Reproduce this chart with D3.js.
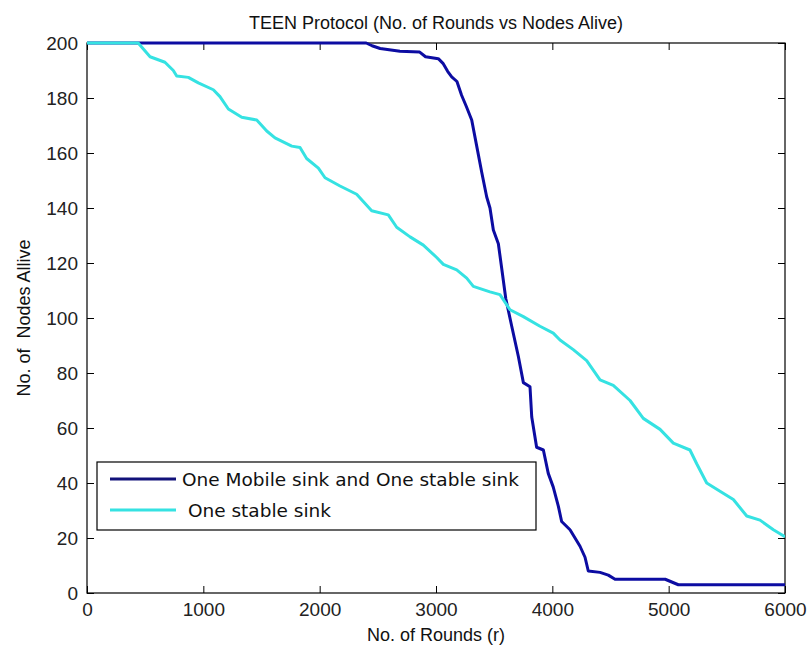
<!DOCTYPE html>
<html>
<head>
<meta charset="utf-8">
<script src="https://cdn.jsdelivr.net/npm/d3@7"></script>
<style>
  body { margin: 0; background: #fff; }
  svg { display: block; }
</style>
</head>
<body>
<div id="chart"></div>
<script>
// rounds -> nodes alive
const mobileRounds = [0, 2400, 2450, 2520, 2690, 2860, 2910, 3020, 3060, 3100, 3135, 3180, 3220, 3260, 3307, 3350, 3393, 3436, 3464, 3493, 3536, 3565, 3600, 3651, 3708, 3751, 3808, 3823, 3865, 3923, 3965, 4008, 4052, 4080, 4152, 4238, 4281, 4309, 4410, 4481, 4539, 4970, 5083, 6000];
const mobileAlive  = [200, 200, 199, 198, 197, 196.7, 195, 194.3, 192.6, 189.7, 187.7, 186, 181, 177, 172, 162.5, 153, 144, 140, 132, 127, 118, 107, 97, 86, 76.5, 75, 64, 53, 52, 43.5, 38.5, 31.5, 26, 23, 17, 13, 8, 7.5, 6.5, 5, 5, 3, 3];

const stableRounds = [0, 440, 542, 670, 742, 771, 871, 957, 1086, 1143, 1215, 1330, 1459, 1545, 1616, 1760, 1831, 1888, 1989, 2046, 2089, 2175, 2318, 2447, 2590, 2662, 2777, 2891, 3006, 3063, 3178, 3264, 3321, 3464, 3550, 3636, 3751, 3894, 4008, 4066, 4180, 4295, 4410, 4524, 4668, 4782, 4926, 5040, 5183, 5241, 5327, 5441, 5556, 5671, 5785, 5900, 6000];
const stableAlive  = [200, 200, 195, 193, 190, 188, 187.5, 185.5, 183, 180.5, 176, 173, 172, 168, 165.5, 162.5, 162, 158, 154.5, 151, 150, 148, 145, 139, 137.5, 133, 129.5, 126.5, 122, 119.5, 117.5, 114.5, 111.5, 109.5, 108.5, 103, 100.5, 97, 94.5, 92, 88.5, 84.5, 77.5, 75.5, 70, 63.5, 59.5, 54.5, 52, 47, 40, 37, 34, 28, 26.5, 23, 20.5];

const xTicks = [0, 1000, 2000, 3000, 4000, 5000, 6000];
const yTicks = [0, 20, 40, 60, 80, 100, 120, 140, 160, 180, 200];

const seriesNames = ["One Mobile sink and One stable sink", " One stable sink"];
const seriesColors = ["#0c0ca2", "#35e2e2"];
const legendColors = ["#12127a", "#35e2e2"];

const width = 809, height = 651;
const margin = {top: 43, right: 24, bottom: 58, left: 87};
const font = "'Liberation Sans', Arial, sans-serif";

const svg = d3.select("#chart").append("svg")
    .attr("width", width)
    .attr("height", height);

const x = d3.scaleLinear().domain([0, 6000]).range([margin.left, width - margin.right]);
const y = d3.scaleLinear().domain([0, 200]).range([height - margin.bottom, margin.top]);

// axes, ticks drawn inward like matlab
const axisStyle = g => g.call(g => g.select(".domain").remove())
    .call(g => g.selectAll("line").attr("stroke", "#000"))
    .call(g => g.selectAll("text").attr("font-family", font).attr("font-size", 19).attr("fill", "#222"));

svg.append("g")
    .attr("transform", `translate(0,${height - margin.bottom})`)
    .call(d3.axisBottom(x).tickValues(xTicks).tickFormat(d3.format("d")).tickSizeInner(-7).tickSizeOuter(0).tickPadding(10))
    .call(axisStyle);

svg.append("g")
    .attr("transform", `translate(0,${margin.top})`)
    .call(d3.axisTop(x).tickValues(xTicks).tickSizeInner(-7).tickSizeOuter(0).tickFormat(""))
    .call(axisStyle);

svg.append("g")
    .attr("transform", `translate(${margin.left},0)`)
    .call(d3.axisLeft(y).tickValues(yTicks).tickSizeInner(-7).tickSizeOuter(0).tickPadding(9))
    .call(axisStyle);

svg.append("g")
    .attr("transform", `translate(${width - margin.right},0)`)
    .call(d3.axisRight(y).tickValues(yTicks).tickSizeInner(-7).tickSizeOuter(0).tickFormat(""))
    .call(axisStyle);

// plot box
svg.append("rect")
    .attr("x", margin.left).attr("y", margin.top)
    .attr("width", width - margin.left - margin.right)
    .attr("height", height - margin.top - margin.bottom)
    .attr("fill", "none").attr("stroke", "#000").attr("stroke-width", 1.2);

const line = d3.line()
    .x(d => x(d[0]))
    .y(d => y(d[1]));

svg.append("clipPath").attr("id", "plotclip").append("rect")
    .attr("x", margin.left).attr("y", margin.top - 2)
    .attr("width", width - margin.left - margin.right)
    .attr("height", height - margin.top - margin.bottom + 2);

const series = [
    d3.zip(mobileRounds, mobileAlive),
    d3.zip(stableRounds, stableAlive)
];

svg.append("g").attr("clip-path", "url(#plotclip)")
    .selectAll("path")
    .data(series)
    .join("path")
        .attr("d", line)
        .attr("fill", "none")
        .attr("stroke", (d, i) => seriesColors[i])
        .attr("stroke-width", 3)
        .attr("stroke-linejoin", "round");

// legend
const legend = svg.append("g").attr("transform", "translate(97,462)");
legend.append("rect")
    .attr("width", 439).attr("height", 68)
    .attr("fill", "#fff").attr("stroke", "#000").attr("stroke-width", 1.2);

legend.selectAll("line")
    .data(seriesNames)
    .join("line")
        .attr("x1", 13).attr("x2", 79)
        .attr("y1", (d, i) => 17 + i * 31).attr("y2", (d, i) => 17 + i * 31)
        .attr("stroke", (d, i) => legendColors[i])
        .attr("stroke-width", 3);

legend.selectAll("text")
    .data(seriesNames)
    .join("text")
        .attr("x", 85)
        .attr("y", (d, i) => 17 + i * 31)
        .attr("dy", "0.36em")
        .attr("font-family", "'DejaVu Sans', sans-serif")
        .attr("font-size", 18.5)
        .attr("fill", "#111")
        .style("white-space", "pre")
        .text(d => d);

// title and labels
svg.append("text")
    .attr("x", (margin.left + width - margin.right) / 2)
    .attr("y", 29)
    .attr("text-anchor", "middle")
    .attr("font-family", font)
    .attr("font-size", 18)
    .attr("fill", "#111")
    .text("TEEN Protocol (No. of Rounds vs Nodes Alive)");

svg.append("text")
    .attr("x", (margin.left + width - margin.right) / 2)
    .attr("y", 641)
    .attr("text-anchor", "middle")
    .attr("font-family", font)
    .attr("font-size", 18)
    .attr("fill", "#111")
    .text("No. of Rounds (r)");

svg.append("text")
    .attr("transform", `translate(30,${(margin.top + height - margin.bottom) / 2}) rotate(-90)`)
    .attr("text-anchor", "middle")
    .attr("font-family", font)
    .attr("font-size", 18)
    .attr("fill", "#111")
    .style("white-space", "pre")
    .text("No. of  Nodes Allive");
</script>
</body>
</html>
